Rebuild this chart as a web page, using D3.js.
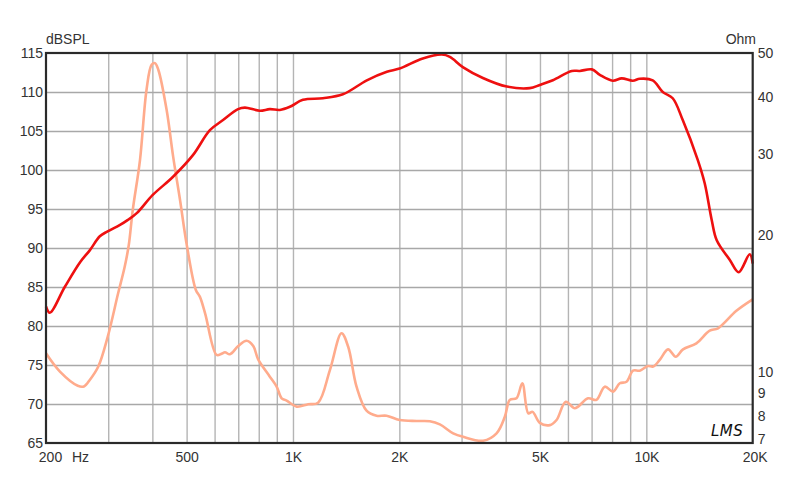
<!DOCTYPE html>
<html>
<head>
<meta charset="utf-8">
<script src="https://cdn.jsdelivr.net/npm/d3@7"></script>
<style>
  html, body { margin: 0; padding: 0; background: #fff; }
  svg { display: block; font-family: "Liberation Sans", Arial, sans-serif; }
</style>
</head>
<body>
<svg id="chart" width="800" height="484"></svg>
<script>
// ---- data ----
const splFreq = [200, 205, 226, 250, 266, 284, 298, 324, 341, 362, 401, 457, 521, 582, 634, 699, 731, 806, 860, 918, 980, 1067, 1215, 1384, 1618, 1844, 2003, 2330, 2638, 2780, 3024, 3447, 4028, 4678, 4995, 5438, 6152, 6481, 7010, 7385, 8036, 8520, 9154, 9580, 10426, 11130, 11876, 12678, 13978, 14628, 15311, 15821, 17214, 18256, 19612, 20000];
const splDb   = [82.5, 81.7, 85.0, 88.2, 89.7, 91.5, 92.1, 92.95, 93.6, 94.5, 96.8, 99.1, 101.9, 105.1, 106.4, 107.8, 108.0, 107.6, 107.8, 107.7, 108.1, 109.0, 109.2, 109.7, 111.5, 112.6, 113.0, 114.3, 114.8, 114.5, 113.2, 111.8, 110.7, 110.5, 110.9, 111.5, 112.7, 112.7, 112.9, 112.2, 111.45, 111.75, 111.45, 111.7, 111.5, 110.0, 109.2, 106.4, 101.3, 98.3, 93.6, 91.0, 88.5, 86.9, 89.2, 88.0];

const impFreq = [200, 219, 246, 256, 266, 281, 299, 320, 334, 343, 352, 369, 385, 398, 407, 416, 439, 458, 479, 500, 531, 545, 564, 608, 628, 642, 663, 700, 739, 772, 797, 860, 899, 929, 959, 1024, 1104, 1178, 1272, 1372, 1433, 1513, 1615, 1724, 1840, 2003, 2237, 2440, 2604, 2840, 3032, 3454, 3768, 3977, 4108, 4291, 4457, 4634, 4764, 4995, 5332, 5571, 5916, 6274, 6840, 7226, 7628, 8050, 8412, 8786, 9171, 9580, 10112, 10448, 10914, 11520, 12112, 12700, 13858, 15114, 15954, 17984, 20000];
const impOhm  = [11.0, 10.03, 9.34, 9.31, 9.62, 10.28, 11.96, 14.89, 17.02, 18.99, 22.65, 29.15, 41.5, 47.1, 47.5, 45.9, 37.5, 29.65, 23.83, 19.09, 15.14, 14.64, 13.46, 10.91, 10.98, 11.06, 10.95, 11.41, 11.72, 11.41, 10.67, 9.78, 9.30, 8.77, 8.67, 8.41, 8.51, 8.58, 10.11, 12.17, 11.37, 9.30, 8.24, 8.03, 8.03, 7.86, 7.82, 7.81, 7.69, 7.35, 7.22, 7.08, 7.35, 7.99, 8.70, 8.77, 9.46, 8.13, 8.19, 7.75, 7.66, 7.86, 8.62, 8.34, 8.77, 8.70, 9.30, 9.07, 9.46, 9.53, 10.08, 10.08, 10.32, 10.29, 10.64, 11.22, 10.81, 11.22, 11.57, 12.33, 12.48, 13.63, 14.44];

const freqGrid   = [300, 400, 500, 600, 700, 800, 900, 1000, 2000, 3000, 4000, 5000, 6000, 7000, 8000, 9000, 10000];
const freqTicks  = [200, 500, 1000, 2000, 5000, 10000, 20000];
const freqLabels = ["200", "500", "1K", "2K", "5K", "10K", "20K"];
const dbTicks    = [65, 70, 75, 80, 85, 90, 95, 100, 105, 110, 115];
const dbGrid     = [70, 75, 80, 85, 90, 95, 100, 105, 110];
const ohmTicks   = [7, 8, 9, 10, 20, 30, 40, 50];

// ---- layout ----
const L = 46, R = 752.7, T = 53, B = 443;
const svg = d3.select("#chart");

const x  = d3.scaleLog().domain([200, 20000]).range([L, R]);
const yL = d3.scaleLinear().domain([65, 115]).range([B, T]);
const yR = d3.scaleLog().domain([7, 50]).range([B, T]);

// grid
const gx = svg.append("g").attr("transform", `translate(0,${B})`)
  .call(d3.axisBottom(x).tickValues(freqGrid).tickSize(-(B - T)).tickFormat(""));
gx.select(".domain").remove();
gx.selectAll("line").attr("stroke", "#b4b4b4").attr("stroke-width", 1.4);

const gy = svg.append("g").attr("transform", `translate(${L},0)`)
  .call(d3.axisLeft(yL).tickValues(dbGrid).tickSize(-(R - L)).tickFormat(""));
gy.select(".domain").remove();
gy.selectAll("line").attr("stroke", "#a8a8a8").attr("stroke-width", 1.4);

// curves
const lineSpl = d3.line().x((d, i) => x(splFreq[i])).y(d => yL(d)).curve(d3.curveCatmullRom.alpha(0.5));
const lineImp = d3.line().x((d, i) => x(impFreq[i])).y(d => yR(d)).curve(d3.curveCatmullRom.alpha(0.5));

svg.append("path").attr("d", lineImp(impOhm))
  .attr("fill", "none").attr("stroke", "#ffab8c").attr("stroke-width", 2.6)
  .attr("stroke-linejoin", "round");
svg.append("path").attr("d", lineSpl(splDb))
  .attr("fill", "none").attr("stroke", "#ee1010").attr("stroke-width", 2.6)
  .attr("stroke-linejoin", "round");

// frame
svg.append("rect").attr("x", L).attr("y", T).attr("width", R - L).attr("height", B - T)
  .attr("fill", "none").attr("stroke", "#2a2a2a").attr("stroke-width", 2.2);

// axes labels
const ax = svg.append("g").attr("transform", `translate(${L},0)`)
  .call(d3.axisLeft(yL).tickValues(dbTicks).tickSize(0).tickPadding(3));
ax.select(".domain").remove();
ax.selectAll("text").attr("font-size", 14).attr("fill", "#333").attr("font-family", "Liberation Sans, Arial, sans-serif");

const ar = svg.append("g").attr("transform", `translate(${R},0)`)
  .call(d3.axisRight(yR).tickValues(ohmTicks).tickFormat(d3.format("d")).tickSize(0).tickPadding(5));
ar.select(".domain").remove();
ar.selectAll("text").attr("font-size", 14).attr("fill", "#333").attr("font-family", "Liberation Sans, Arial, sans-serif")
  .attr("y", d => d === 7 ? -4 : 0);

const ab = svg.append("g").attr("transform", `translate(0,${B})`)
  .call(d3.axisBottom(x).tickValues(freqTicks).tickFormat((d) => freqLabels[freqTicks.indexOf(d)]).tickSize(0).tickPadding(9));
ab.select(".domain").remove();
ab.selectAll("text").attr("font-size", 14).attr("fill", "#333").attr("font-family", "Liberation Sans, Arial, sans-serif")
  .attr("dx", d => d === 200 ? 4 : (d === 20000 ? 2 : 0));

svg.append("text").attr("x", 72).attr("y", 462).attr("font-size", 14).attr("fill", "#333").text("Hz");
svg.append("text").attr("x", 46).attr("y", 44).attr("font-size", 14).attr("fill", "#333").text("dBSPL");
svg.append("text").attr("x", 756).attr("y", 44).attr("text-anchor", "end").attr("font-size", 14).attr("fill", "#333").text("Ohm");

// logo
svg.append("text").attr("x", 711).attr("y", 436)
  .attr("font-family", "DejaVu Sans, sans-serif").attr("font-style", "italic")
  .attr("font-size", 15).attr("fill", "#111").attr("letter-spacing", 0.5)
  .text("LMS");
</script>
</body>
</html>
